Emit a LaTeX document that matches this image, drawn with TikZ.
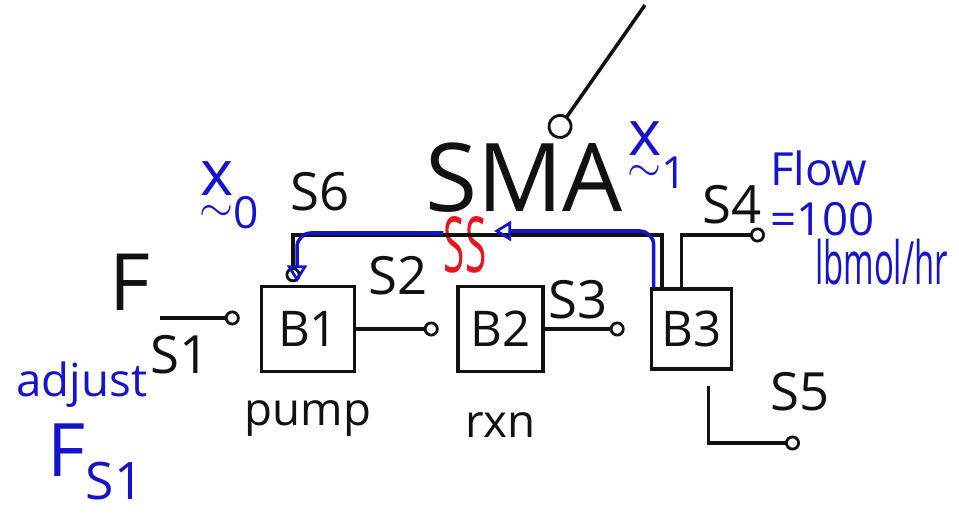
\documentclass[tikz,border=0pt]{standalone}
\usepackage{amsmath}
\usepackage{fontspec}
\setmainfont{Open Sans}
\usetikzlibrary{arrows.meta, positioning, calc}
\definecolor{tintanegra}{HTML}{111111}
\definecolor{azulpluma}{HTML}{1414CC}
\definecolor{rojopluma}{HTML}{E8141E}
\colorlet{colTrazo}{tintanegra}
\colorlet{colAzul}{azulpluma}
\colorlet{colCorte}{rojopluma}
\tikzset{
  cajaBloque/.style={
    draw=colTrazo, line width=2pt,
    minimum height=1.7cm, minimum width=1.7cm,
    font=\fontsize{28}{30}\selectfont, text=colTrazo
  },
  corriente/.style={-{Circle[open, length=3mm, line width=1.6pt]}, line width=2pt, colTrazo},
  reciclo/.style={-{Triangle[open, length=3.4mm, width=4mm, line width=1.6pt]},
    line width=2pt, colAzul, rounded corners=8pt},
  nota/.style={-{Circle[open, length=5mm, line width=1.6pt]}, line width=2pt, colTrazo},
  etiquetaCorriente/.style={font=\fontsize{30}{32}\selectfont, text=colTrazo, inner sep=1pt},
  etiquetaEquipo/.style={font=\fontsize{26}{28}\selectfont, text=colTrazo, inner sep=1pt},
  etiquetaAzul/.style={font=\fontsize{26}{28}\selectfont, text=colAzul, align=left, inner sep=1pt},
  vectorAzul/.style={etiquetaAzul, font=\fontsize{36}{38}\selectfont, inner sep=0pt},
  desgarro/.style={font=\fontsize{44}{44}\selectfont, text=colCorte, inner sep=0pt},
}

\begin{document}
\begin{tikzpicture}[x=0.02cm, y=-0.02cm, node distance=2cm]
    \useasboundingbox (0,0) rectangle (959,517);
    \node[cajaBloque, minimum width=1.86cm] (b1) at (308,329) {B1};
    \node[cajaBloque, right=2cm of b1] (b2) {B2};
    \node[cajaBloque, minimum width=1.6cm, minimum height=1.6cm, right=2.1cm of b2] (b3) {B3};
    \node[etiquetaEquipo, below=0.5cm of b1] (pump) {pump};
    \node[etiquetaEquipo, below=0.75cm of b2] (rxn) {rxn};
    \node[font=\fontsize{54}{56}\selectfont, text=colTrazo, inner sep=0pt] (sma) at (524,178) {SMA};
    \node[desgarro] (corte) at (465,245) {\scalebox{0.5}[1]{SS}};
    \node[etiquetaCorriente, font=\fontsize{45}{46}\selectfont] (f) at (130,282) {F};
    \node[etiquetaCorriente] (s1) at (180,355) {S1};
    \node[etiquetaCorriente] (s2) at (398,276) {S2};
    \node[etiquetaCorriente] (s3) at (578,300) {S3};
    \node[etiquetaCorriente] (s4) at (732,205) {S4};
    \node[etiquetaCorriente] (s5) at (800,392) {S5};
    \node[etiquetaCorriente] (s6) at (320,192) {S6};
    \node[vectorAzul] (x0) at (230,195) {$\underset{\sim}{\text{x}}_{\text{0}}$};
    \node[vectorAzul] (x1) at (658,155) {$\underset{\sim}{\text{x}}_{\text{1}}$};
    \node[etiquetaAzul, anchor=west] (flujo) at (768,218)
        {Flow\\=100\\\hspace*{0.9cm}\scalebox{0.55}[1]{\fontsize{34}{28}\selectfont lbmol/hr}};
    \node[etiquetaAzul] (ajuste) at (82,385) {adjust};
    \node[etiquetaAzul, font=\fontsize{42}{44}\selectfont] (fs1) at (96,462) {F\textsubscript{S1}};
    \coordinate (entradaS1) at (160,318);
    \coordinate (salidaS4) at (765,235);
    \coordinate (salidaS5) at (800,443);
    \coordinate (codoS6) at (293,235);
    \coordinate (notaArriba) at (645,5);
    \draw[corriente, shorten >=0.4cm] (entradaS1) -- (entradaS1 -| b1.west);
    \draw[corriente, shorten >=0.35cm] (b1.east) -- (b2.west);
    \draw[corriente, shorten >=0.5cm] (b2.east) -- (b3.west);
    \draw[corriente] ([xshift=-0.2cm]b3.north) |- (salidaS4);
    \draw[corriente, shorten <=0.3cm] ([xshift=0.34cm]b3.south) |- (salidaS5);
    \draw[corriente, shorten >=0.05cm] ([xshift=0.25cm]b3.north west) |- (codoS6) -- (codoS6 |- b1.north);
    \draw[reciclo, shorten >=0.15cm] ([xshift=0.08cm]b3.north west) |- ([yshift=0.28cm]corte.east);
    \draw[reciclo, shorten >=0.05cm] ([yshift=0.24cm]corte.west) -| ([xshift=-0.22cm]b1.north);
    \draw[nota, shorten >=0.15cm] (notaArriba) -- (sma);
\end{tikzpicture}
\end{document}
